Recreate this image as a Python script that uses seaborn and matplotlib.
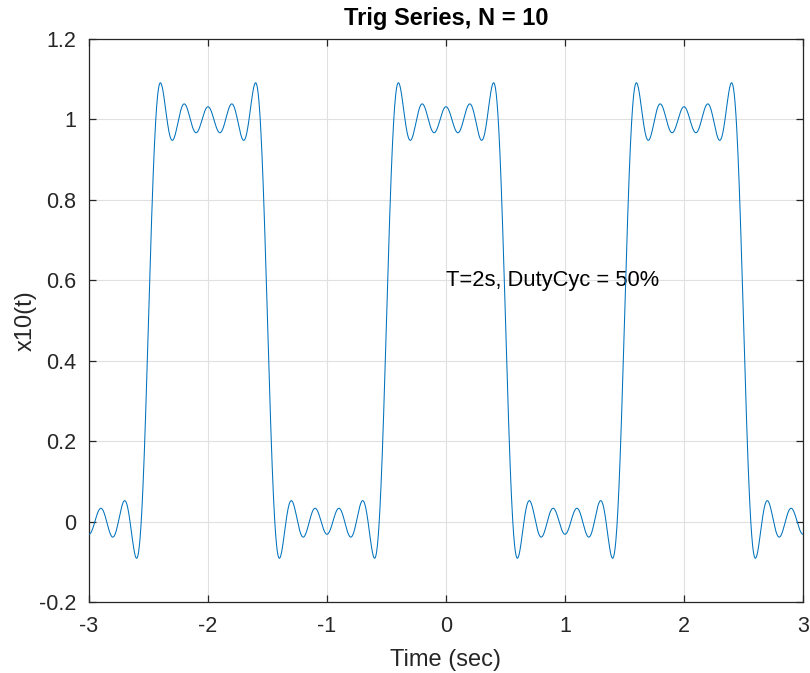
import numpy as np
import pandas as pd
import seaborn as sns
import matplotlib
matplotlib.use("Agg")
import matplotlib.pyplot as plt

# Trig (Fourier) series coefficients of a square wave, T = 2 s, 50% duty cycle, N = 10
period = 2.0
dc_term = 0.5
harmonics = [1, 2, 3, 4, 5, 6, 7, 8, 9, 10]
cos_coeffs = [0.63662, 0.0, -0.21221, 0.0, 0.12732, 0.0, -0.09095, 0.0, 0.07074, 0.0]
x_ticks = [-3, -2, -1, 0, 1, 2, 3]
y_ticks = [-0.2, 0, 0.2, 0.4, 0.6, 0.8, 1.0, 1.2]
y_tick_labels = ["-0.2", "0", "0.2", "0.4", "0.6", "0.8", "1", "1.2"]
title = "Trig Series, N = 10"
annotation = "T=2s, DutyCyc = 50%"

t = np.linspace(-3, 3, 3001)
x = np.full_like(t, dc_term)
for k, a in zip(harmonics, cos_coeffs):
    x += a * np.cos(2 * np.pi * k * t / period)
df = pd.DataFrame({"t": t, "x": x})

sns.set_style("white")
plt.rcParams["font.family"] = ["Liberation Sans", "DejaVu Sans"]

fig = plt.figure(figsize=(8.1, 6.73), dpi=100)
ax = fig.add_axes([89 / 810, 1 - 602 / 673, (803 - 89) / 810, (602 - 39) / 673])

sns.lineplot(data=df, x="t", y="x", ax=ax, color="#0072BD", linewidth=0.75, zorder=3)

ax.set_xlim(-3, 3)
ax.set_ylim(-0.2, 1.2)
ax.set_xticks(x_ticks)
ax.set_xticklabels([str(v) for v in x_ticks])
ax.set_yticks(y_ticks)
ax.set_yticklabels(y_tick_labels)
ax.grid(True, color="#e0e0e0", linewidth=0.8)
ax.set_axisbelow(True)
for s in ax.spines.values():
    s.set_visible(True)
    s.set_color("#262626")
    s.set_linewidth(0.9)
ax.tick_params(direction="in", length=5, width=0.9, color="#262626",
               labelsize=15.5, labelcolor="#262626", top=True, right=True,
               bottom=True, left=True, labeltop=False, labelright=False)
ax.tick_params(axis="x", pad=10)
ax.tick_params(axis="y", pad=9)
ax.set_xlabel("Time (sec)", fontsize=17, color="#262626", labelpad=9)
ax.set_ylabel("x10(t)", fontsize=17, color="#262626", labelpad=2)
ax.set_title(title, fontsize=17, fontweight="bold", color="black", pad=10)
ax.text(0, 0.6, annotation, fontsize=15.75, ha="left", va="center", color="black", zorder=2)

fig.savefig("out.png", dpi=100)
